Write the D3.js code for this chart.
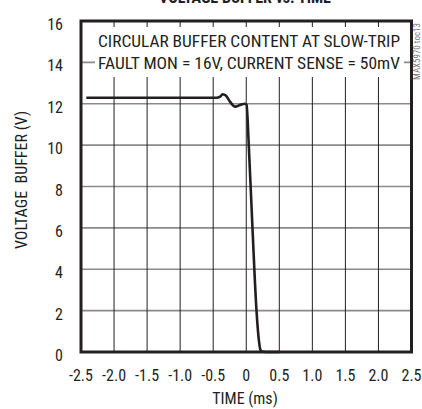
<!DOCTYPE html>
<html><head><meta charset="utf-8">
<script src="https://cdn.jsdelivr.net/npm/d3@7"></script>
<style>
body{margin:0;background:#fff;}
text{font-family:"Liberation Sans Narrow","Roboto Condensed","DejaVu Sans Condensed",sans-serif;fill:#231f20;}
</style></head><body>
<svg id="c" width="422" height="409"></svg>
<script>
const xTicks = [-2.5,-2.0,-1.5,-1.0,-0.5,0,0.5,1.0,1.5,2.0,2.5];
const xTickLabels = ["-2.5","-2.0","-1.5","-1.0","-0.5","0","0.5","1.0","1.5","2.0","2.5"];
const yTicks = [0,2,4,6,8,10,12,14,16];
const timeMs = [-2.42,-1.5,-0.6,-0.45,-0.40,-0.355,-0.31,-0.25,-0.20,-0.16,-0.11,-0.06,-0.02,0.005,0.038,0.094,0.155,0.19,0.215,0.24,0.3,0.5];
const voltage = [12.29,12.29,12.29,12.29,12.33,12.46,12.40,12.12,11.92,11.86,11.92,11.98,12.0,11.95,10.0,6.0,2.0,0.6,0.1,0.02,0.0,0.0];

const svg = d3.select("#c");
const x = d3.scaleLinear().domain([-2.5,2.5]).range([81,411.5]);
const y = d3.scaleLinear().domain([0,16]).range([352,21]);

// title (cut off at top, as in the reference)
svg.append("text").attr("x",245).attr("y",3).attr("text-anchor","middle")
  .style("font-weight","bold").style("font-size","16px").text("VOLTAGE BUFFER vs. TIME");

// horizontal grid (gray)
svg.append("g").selectAll("line").data(yTicks).join("line")
  .attr("x1",x(-2.5)).attr("x2",x(2.5)).attr("y1",d=>y(d)).attr("y2",d=>y(d))
  .attr("stroke","#8a8a8a").attr("stroke-width",1.6);
// vertical grid (black)
svg.append("g").selectAll("line").data(xTicks).join("line")
  .attr("y1",y(0)).attr("y2",y(16)).attr("x1",d=>x(d)).attr("x2",d=>x(d))
  .attr("stroke","#231f20").attr("stroke-width",1);

// annotation box
svg.append("rect").attr("x",95).attr("y",27).attr("width",309).attr("height",50).attr("fill","#fff");
svg.append("text").attr("x",249).attr("y",47).attr("text-anchor","middle")
  .style("font-size","17px").attr("textLength",302).attr("lengthAdjust","spacingAndGlyphs")
  .text("CIRCULAR BUFFER CONTENT AT SLOW-TRIP");
svg.append("text").attr("x",249).attr("y",69).attr("text-anchor","middle")
  .style("font-size","17px").attr("textLength",302).attr("lengthAdjust","spacingAndGlyphs")
  .text("FAULT MON = 16V, CURRENT SENSE = 50mV");

// frame
svg.append("rect").attr("x",x(-2.5)).attr("y",y(16)).attr("width",x(2.5)-x(-2.5)).attr("height",y(0)-y(16))
  .attr("fill","none").attr("stroke","#231f20").attr("stroke-width",3);

// curve
const pts = timeMs.map((t,i)=>[t,voltage[i]]);
svg.append("path").datum(pts)
  .attr("d",d3.line().x(d=>x(d[0])).y(d=>y(d[1])).curve(d3.curveMonotoneX))
  .attr("fill","none").attr("stroke","#231f20").attr("stroke-width",2.6).attr("stroke-linejoin","round");

// y tick labels
svg.append("g").selectAll("text").data(yTicks).join("text")
  .attr("x",63).attr("y",d=>y(d)+9).attr("text-anchor","end").style("font-size","16px").text(d=>d);
// x tick labels
svg.append("g").selectAll("text").data(xTicks).join("text")
  .attr("x",d=>x(d)).attr("y",381).attr("text-anchor","middle").style("font-size","16px")
  .text((d,i)=>xTickLabels[i]);

// axis titles
svg.append("text").attr("x",245).attr("y",404).attr("text-anchor","middle").style("font-size","16px").text("TIME (ms)");
svg.append("text").attr("transform","translate(27,180) rotate(-90)").attr("text-anchor","middle")
  .style("font-size","16px").attr("xml:space","preserve").text("VOLTAGE  BUFFER (V)");

// side code
svg.append("text").attr("transform","translate(420,80) rotate(-90)").attr("text-anchor","start")
  .style("font-size","9px").style("fill","#777").text("MAX5970 toc13");
</script></body></html>
